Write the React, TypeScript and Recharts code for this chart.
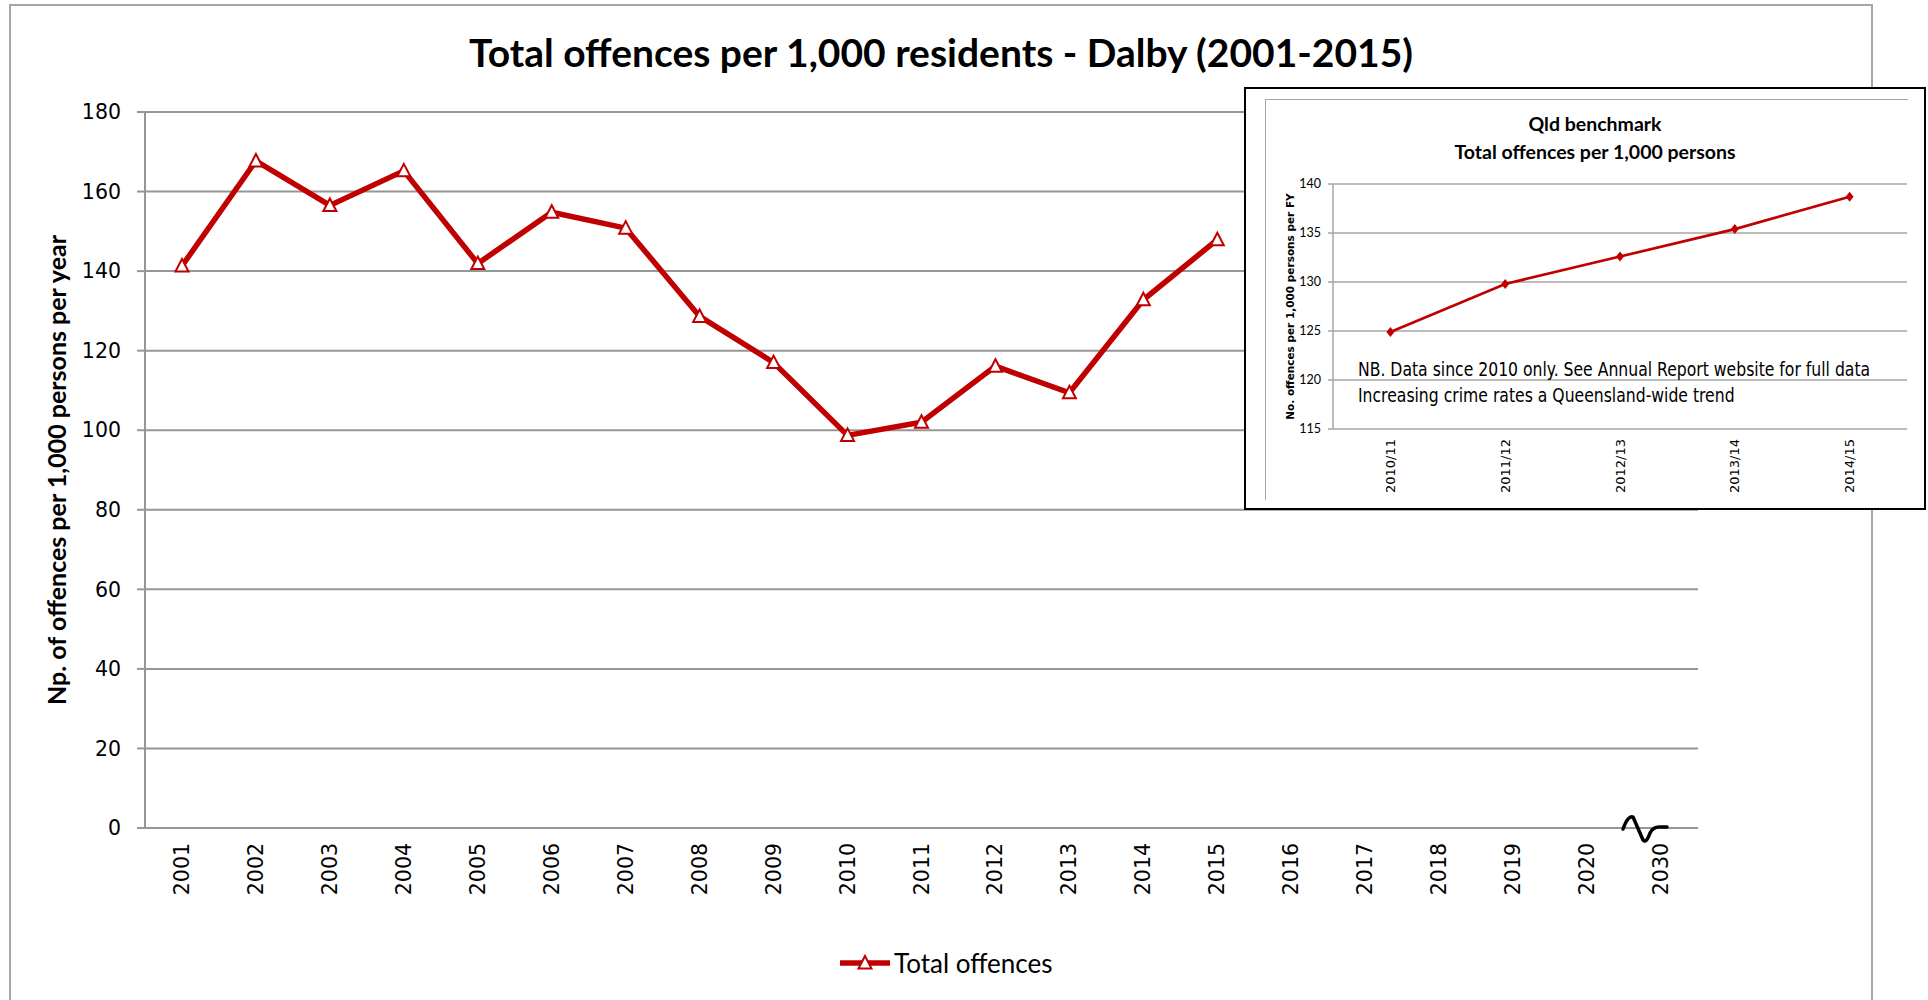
import { LineChart, Line, XAxis, YAxis, CartesianGrid, Legend, ReferenceDot, Label } from "recharts"

// Main chart: Dalby, calendar years (2016 onwards has no data yet)
const years = ["2001", "2002", "2003", "2004", "2005", "2006", "2007", "2008", "2009", "2010", "2011", "2012", "2013", "2014", "2015", "2016", "2017", "2018", "2019", "2020", "2030"]
const offences = [141.3, 167.7, 156.5, 165.2, 141.9, 154.8, 150.8, 128.6, 117.0, 98.7, 102.0, 116.1, 109.4, 132.8, 147.9]
const yTicks = [0, 20, 40, 60, 80, 100, 120, 140, 160, 180]

// Inset: Qld benchmark, financial years
const qldYears = ["2010/11", "2011/12", "2012/13", "2013/14", "2014/15"]
const qldRates = [124.9, 129.8, 132.6, 135.4, 138.7]
const qldTicks = [115, 120, 125, 130, 135, 140]

const mainData = years.map((year, i) => ({ year, idx: i, value: i < offences.length ? offences[i] : null }))
const qldData = qldYears.map((fy, i) => ({ fy, idx: i, value: qldRates[i] }))

// tick marks sit between categories, like the original
const mainEdges = Array.from({ length: years.length + 1 }, (_, i) => i)
const qldEdges = Array.from({ length: qldYears.length + 1 }, (_, i) => i)

const RED = "#c00000"
const GRID = "#969696"

const TriangleDot = (props: any) => {
  const { cx, cy, value } = props
  if (value == null || cx == null || cy == null) return null
  return (
    <path
      d={`M${cx},${cy - 7} L${cx + 6.5},${cy + 5.5} L${cx - 6.5},${cy + 5.5} Z`}
      fill="#fff"
      stroke={RED}
      strokeWidth={2}
    />
  )
}

const DiamondDot = (props: any) => {
  const { cx, cy } = props
  if (cx == null || cy == null) return null
  return <path d={`M${cx},${cy - 5} L${cx + 4},${cy} L${cx},${cy + 5} L${cx - 4},${cy} Z`} fill={RED} />
}

const YearTick = (props: any) => {
  const { x, y, payload } = props
  return (
    <text x={x} y={y} transform={`rotate(-90, ${x}, ${y})`} textAnchor="end" dominantBaseline="central"
      fontFamily="DejaVu Sans" fontSize={20.5} fill="#000">
      {payload.value}
    </text>
  )
}

const FyTick = (props: any) => {
  const { x, y, payload } = props
  return (
    <text x={x} y={y} transform={`rotate(-90, ${x}, ${y})`} textAnchor="end" dominantBaseline="central"
      fontFamily="DejaVu Sans" fontSize={13} fill="#000">
      {payload.value}
    </text>
  )
}

// the little axis-break squiggle between 2020 and 2030
const BreakMark = (props: any) => {
  const { cx, cy } = props
  if (cx == null || cy == null) return null
  return (
    <path
      d={`M${cx - 38},${cy + 1} Q${cx - 33},${cy - 13} ${cx - 28},${cy - 11} L${cx - 18},${cy + 12} Q${cx - 15},${cy + 16} ${cx - 11},${cy + 5} Q${cx - 8},${cy - 1} ${cx - 2},${cy - 1} L${cx + 6},${cy - 1}`}
      fill="none"
      stroke="#000"
      strokeWidth={3.5}
      strokeLinejoin="round"
      strokeLinecap="round"
    />
  )
}

const renderLegend = () => (
  <div style={{ display: "flex", alignItems: "center" }}>
    <svg width={54} height={20}>
      <line x1={2} y1={10} x2={52} y2={10} stroke={RED} strokeWidth={5.5} />
      <path d="M27,3 L33.5,15.5 L20.5,15.5 Z" fill="#fff" stroke={RED} strokeWidth={2} />
    </svg>
    <span style={{ fontFamily: "Lato", fontSize: 26, color: "#000", marginLeft: 2 }}>Total offences</span>
  </div>
)

function QldInset() {
  return (
    <div style={{ position: "absolute", left: 1244, top: 87, width: 682, height: 423, background: "#fff" }}>
      <div style={{ position: "absolute", inset: 0, border: "2.5px solid #000", boxSizing: "border-box" }} />
      <div style={{ position: "absolute", left: 21, top: 12, width: 642, height: 400, borderLeft: "1.5px solid #a6a6a6", borderTop: "1.5px solid #a6a6a6" }} />
      <div style={{ position: "absolute", left: 0, top: 0 }}>
        <LineChart width={682} height={423} data={qldData} margin={{ top: 97, right: 19, bottom: 21, left: 49 }}>
          <CartesianGrid xAxisId="fy" vertical={false} stroke="#a6a6a6" strokeWidth={1.5} />
          <XAxis xAxisId="b" dataKey="idx" type="number" domain={[0, qldYears.length]} allowDataOverflow ticks={qldEdges}
            height={0} tick={false} tickSize={5} stroke="#a6a6a6" strokeWidth={1.5} />
          <XAxis xAxisId="fy" dataKey="fy" scale="band" height={60} interval={0} axisLine={false} tickLine={false}
            tickSize={0} tickMargin={10} tick={<FyTick />} />
          <YAxis domain={[115, 140]} ticks={qldTicks} width={40} tickSize={5} tickMargin={7} stroke="#a6a6a6" strokeWidth={1.5}
            tick={{ fontFamily: "Lato", fontSize: 12.5, fill: "#000", stroke: "none" }}>
            <Label value="No. offences per 1,000 persons per FY" angle={-90} position="center" dx={-23}
              style={{ fontFamily: "DejaVu Sans", fontWeight: "bold", fontSize: 10.5, fill: "#000" }} />
          </YAxis>
          <Line xAxisId="fy" dataKey="value" stroke={RED} strokeWidth={2.7} dot={<DiamondDot />} activeDot={false} isAnimationActive={false} />
        </LineChart>
      </div>
      <div style={{ position: "absolute", left: 0, top: 23, width: 702, textAlign: "center", fontFamily: "Lato", fontWeight: "bold", fontSize: 19.5, lineHeight: "28px", color: "#000" }}>
        <div>Qld benchmark</div>
        <div>Total offences per 1,000 persons</div>
      </div>
      <div style={{ position: "absolute", left: 114, top: 269, fontFamily: "'Liberation Sans Narrow', 'DejaVu Sans Condensed', sans-serif", fontStretch: "condensed", fontSize: 19, lineHeight: "26px", color: "#000", whiteSpace: "nowrap", transform: "scaleX(0.915)", transformOrigin: "left top" }}>
        <div>NB. Data since 2010 only. See Annual Report website for full data</div>
        <div>Increasing crime rates a Queensland-wide trend</div>
      </div>
    </div>
  )
}

export default function App() {
  return (
    <div style={{ position: "absolute", left: 0, top: 0, width: 1928, height: 1000, background: "#fff", overflow: "hidden" }}>
      <div style={{ position: "absolute", left: 9, top: 4, width: 1864, height: 1010, border: "2px solid #a6a6a6", boxSizing: "border-box" }} />
      <div style={{ position: "absolute", left: 0, top: 28, width: 1882, textAlign: "center", fontFamily: "Lato", fontWeight: "bold", fontSize: 39, lineHeight: "48px", color: "#000" }}>
        Total offences per 1,000 residents - Dalby (2001-2015)
      </div>
      <div style={{ position: "absolute", left: 0, top: 0 }}>
        <LineChart width={1928} height={1000} data={mainData} margin={{ top: 112, right: 230, bottom: 72, left: 45 }}>
          <CartesianGrid xAxisId="cat" vertical={false} stroke={GRID} strokeWidth={2} />
          <XAxis xAxisId="b" dataKey="idx" type="number" domain={[0, years.length]} allowDataOverflow ticks={mainEdges}
            height={0} tick={false} tickSize={8} stroke={GRID} strokeWidth={2} />
          <XAxis xAxisId="cat" dataKey="year" scale="band" height={100} interval={0} axisLine={false} tickLine={false}
            tickSize={0} tickMargin={15} tick={<YearTick />} />
          <YAxis domain={[0, 180]} ticks={yTicks} width={100} tickSize={8} tickMargin={16} stroke={GRID} strokeWidth={2}
            tick={{ fontFamily: "DejaVu Sans", fontSize: 20.5, fill: "#000", stroke: "none" }}>
            <Label value="Np. of offences per 1,000 persons per year" angle={-90} position="center" dx={-38}
              style={{ fontFamily: "Lato", fontWeight: "bold", fontSize: 25, fill: "#000" }} />
          </YAxis>
          <Line xAxisId="cat" dataKey="value" name="Total offences" stroke={RED} strokeWidth={5.5} strokeLinejoin="miter"
            dot={<TriangleDot />} activeDot={false} isAnimationActive={false} />
          <ReferenceDot xAxisId="cat" x="2030" y={0} ifOverflow="visible" shape={<BreakMark />} />
          <Legend layout="horizontal" verticalAlign="middle" align="center" content={renderLegend}
            wrapperStyle={{ position: "absolute", left: 838, top: 947, width: "auto" }} />
        </LineChart>
      </div>
      <QldInset />
    </div>
  )
}
